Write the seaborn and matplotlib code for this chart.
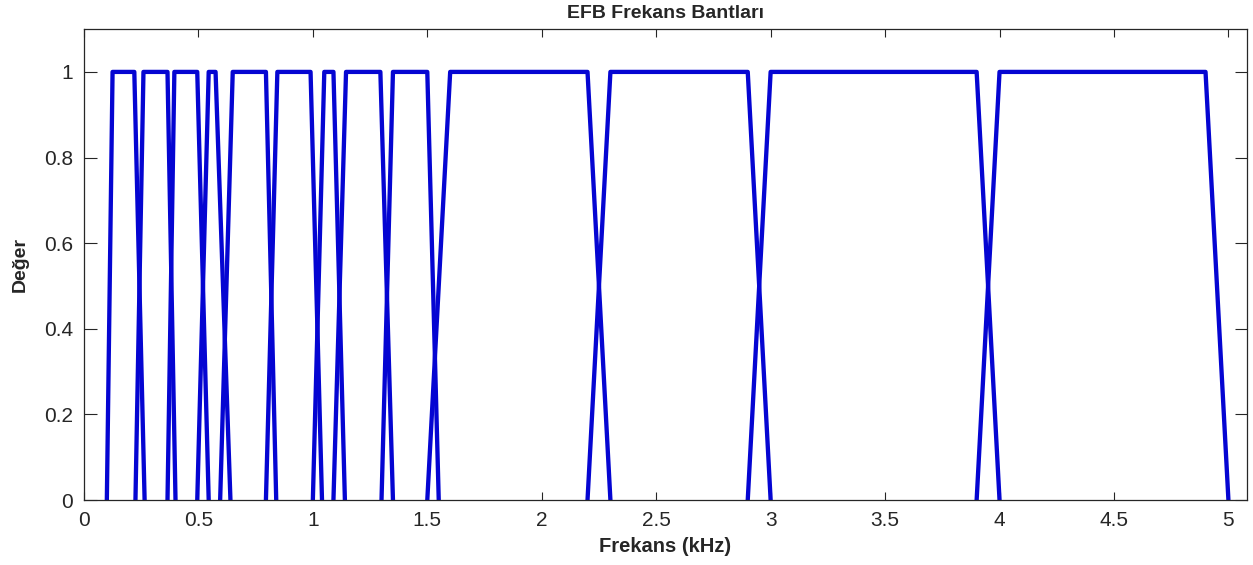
import pandas as pd
import matplotlib
matplotlib.use("Agg")
import matplotlib.pyplot as plt
import seaborn as sns

# Trapezoid band corners (kHz):
# value 0 at rise_start, 1 from rise_end to fall_start, 0 again at fall_end
rise_start = [0.10, 0.225, 0.365, 0.495, 0.595, 0.795, 1.00, 1.09, 1.30, 1.50, 2.20, 2.90, 3.90]
rise_end   = [0.125, 0.26, 0.395, 0.545, 0.65, 0.845, 1.05, 1.145, 1.35, 1.60, 2.30, 3.00, 4.00]
fall_start = [0.22, 0.365, 0.495, 0.575, 0.795, 0.99, 1.09, 1.295, 1.50, 2.20, 2.90, 3.90, 4.90]
fall_end   = [0.265, 0.40, 0.545, 0.64, 0.84, 1.04, 1.14, 1.35, 1.55, 2.30, 3.00, 4.00, 5.00]
levels = [0, 1, 1, 0]

x_ticks = [0, 0.5, 1, 1.5, 2, 2.5, 3, 3.5, 4, 4.5, 5]
x_tick_labels = ["0", "0.5", "1", "1.5", "2", "2.5", "3", "3.5", "4", "4.5", "5"]
y_ticks = [0, 0.2, 0.4, 0.6, 0.8, 1]
y_tick_labels = ["0", "0.2", "0.4", "0.6", "0.8", "1"]


def main():
    rows = []
    for i, corners in enumerate(zip(rise_start, rise_end, fall_start, fall_end)):
        for order, (f, v) in enumerate(zip(corners, levels)):
            rows.append({"band": i, "order": order, "f": f, "v": v})
    df = pd.DataFrame(rows)

    sns.set_style("white")
    plt.rcParams["font.family"] = ["Liberation Sans", "DejaVu Sans"]

    fig = plt.figure(figsize=(12.53, 5.65), dpi=100)
    ax = fig.add_axes([0.067, 0.115, 0.928, 0.8335])

    sns.lineplot(data=df, x="f", y="v", units="band", estimator=None,
                 sort=False, color="#0505D2", linewidth=3.1, ax=ax, legend=False)

    ax.set_xlim(0, 5.08)
    ax.set_ylim(0, 1.1)
    ax.set_xticks(x_ticks)
    ax.set_xticklabels(x_tick_labels)
    ax.set_yticks(y_ticks)
    ax.set_yticklabels(y_tick_labels)

    edge = "#262626"
    for side in ax.spines.values():
        side.set_visible(True)
        side.set_color(edge)
        side.set_linewidth(0.9)
    ax.tick_params(axis="x", direction="in", length=6, width=0.8, top=True, bottom=True,
                   colors=edge, labelsize=15, pad=8)
    ax.tick_params(axis="y", direction="in", length=9, width=0.8, left=True, right=True,
                   colors=edge, labelsize=15, pad=8)

    ax.set_title("EFB Frekans Bantları", fontsize=14, fontweight="bold", pad=8)
    ax.set_xlabel("Frekans (kHz)", fontsize=14.5, fontweight="bold", labelpad=5)
    ax.set_ylabel("Değer", fontsize=14, fontweight="bold", labelpad=11)

    fig.savefig("out.png", dpi=100)
    plt.close(fig)


if __name__ == "__main__":
    main()
